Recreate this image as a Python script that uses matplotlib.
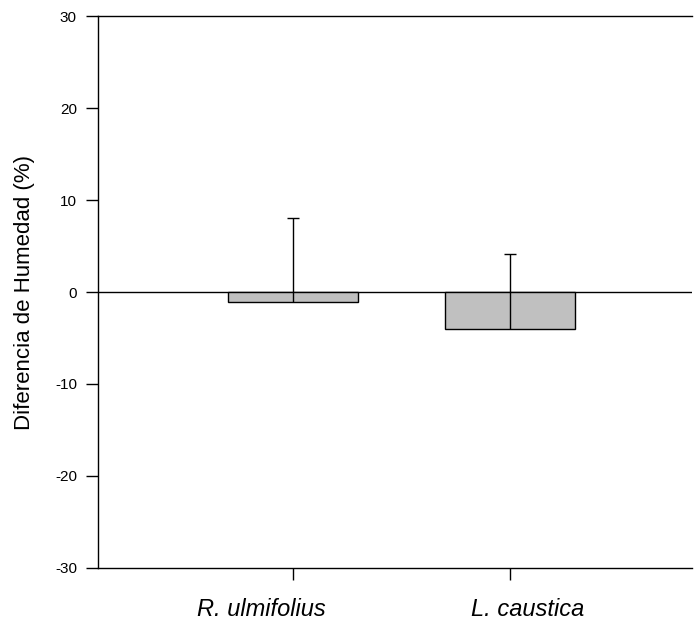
import matplotlib
matplotlib.use("Agg")
import matplotlib.pyplot as plt
import numpy as np

plt.rcParams["font.family"] = ["Liberation Sans", "DejaVu Sans"]

species = ["R. ulmifolius", "L. caustica"]
diff_mean = [-1.1, -4.0]      # humidity difference (%)
diff_err_up = [9.1, 8.1]      # upper error only
y_ticks = [-30, -20, -10, 0, 10, 20, 30]
label_shift_pt = [-23, 13]    # horizontal nudge of category labels

fig = plt.figure(figsize=(6.94, 6.22), dpi=100)
ax = fig.add_axes([0.141, 0.087, 0.856, 0.887])

x = np.arange(len(species))
mean = np.array(diff_mean)
top = mean + np.array(diff_err_up)

ax.bar(x, mean, width=0.6, color="#c0c0c0", edgecolor="black", linewidth=1.0, zorder=2)
# one-sided error bars: line from bar end up to the cap
ax.vlines(x, mean, top, color="black", linewidth=1.0, zorder=3)
ax.plot(x, top, linestyle="none", marker="_", markersize=8.6,
        markeredgewidth=1.0, color="black", zorder=3)
ax.axhline(0, color="black", linewidth=1.0, zorder=1)

ax.set_xlim(-0.899, 1.839)
ax.set_ylim(-30, 30)
ax.set_yticks(y_ticks)
ax.set_yticklabels([str(t) for t in y_ticks])
ax.set_xticks(x)
ax.set_xticklabels([])
for xi, name, dx in zip(x, species, label_shift_pt):
    ax.annotate(name, xy=(xi, 0), xycoords=ax.get_xaxis_transform(),
                xytext=(dx, -22), textcoords="offset points",
                ha="center", va="top", fontsize=17, fontstyle="italic")
ax.set_ylabel("Diferencia de Humedad (%)", fontsize=16, labelpad=14)

ax.spines["right"].set_visible(False)
for s in ("left", "bottom", "top"):
    ax.spines[s].set_linewidth(1.0)
ax.tick_params(axis="y", direction="out", length=8.6, width=1.0, labelsize=11, pad=6.5)
ax.tick_params(axis="x", direction="out", length=8.6, width=1.0)

fig.savefig("out.png", dpi=100)
